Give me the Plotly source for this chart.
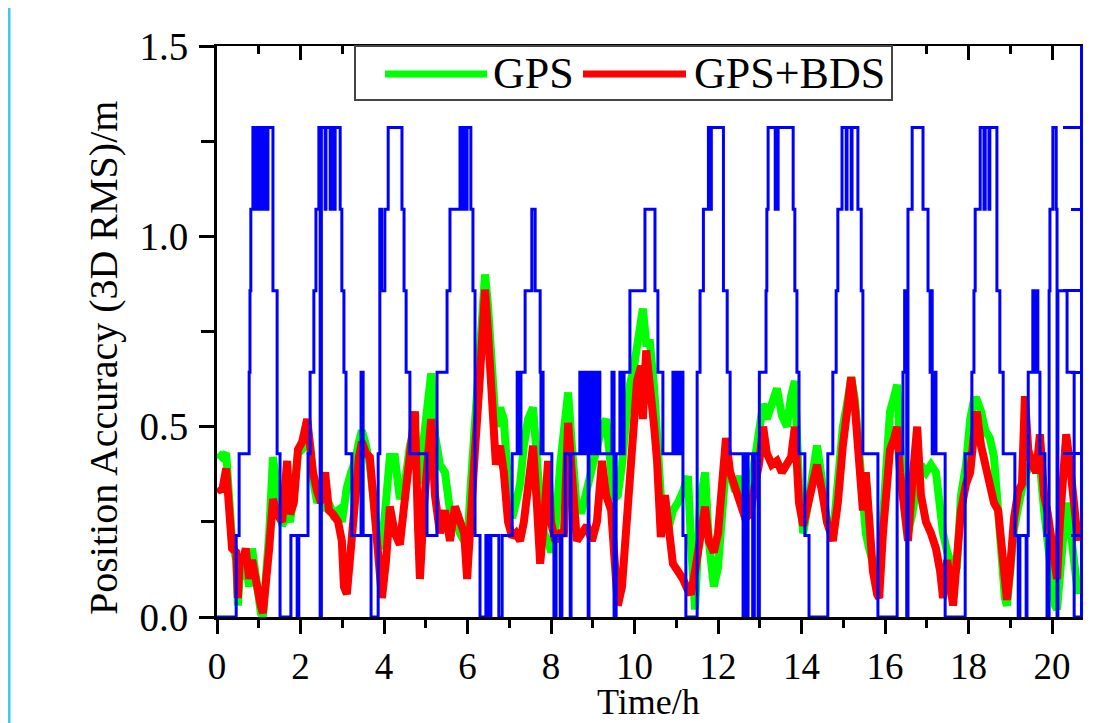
import plotly.graph_objects as go

# ---- data ----
hours = [0.02, 0.12, 0.22, 0.29, 0.36, 0.46, 0.50, 0.55, 0.62, 0.69, 0.77, 0.84, 0.91, 0.98, 1.05, 1.10, 1.17, 1.25, 1.34, 1.44,
         1.56, 1.68, 1.75, 1.84, 1.94, 2.04, 2.16, 2.23, 2.30, 2.40, 2.49, 2.59, 2.68, 2.78, 2.90, 2.99, 3.04, 3.11, 3.21, 3.31,
         3.40, 3.47, 3.57, 3.66, 3.76, 3.86, 3.95, 4.05, 4.14, 4.26, 4.38, 4.50, 4.62, 4.74, 4.81, 4.86, 4.96, 5.05, 5.13, 5.22,
         5.34, 5.46, 5.58, 5.70, 5.82, 5.92, 5.99, 6.08, 6.18, 6.28, 6.37, 6.42, 6.49, 6.59, 6.68, 6.78, 6.87, 6.97, 7.07, 7.16,
         7.26, 7.35, 7.45, 7.57, 7.66, 7.74, 7.83, 7.93, 8.00, 8.10, 8.22, 8.31, 8.41, 8.50, 8.62, 8.74, 8.86, 8.98, 9.10, 9.22,
         9.32, 9.44, 9.51, 9.60, 9.70, 9.80, 9.89, 9.99, 10.06, 10.16, 10.20, 10.28, 10.37, 10.47, 10.54, 10.63, 10.73, 10.83, 10.92, 11.04,
         11.16, 11.28, 11.35, 11.45, 11.57, 11.69, 11.78, 11.90, 12.00, 12.10, 12.19, 12.29, 12.41, 12.53, 12.65, 12.77, 12.89, 12.98, 13.08, 13.17,
         13.29, 13.41, 13.53, 13.65, 13.75, 13.84, 13.94, 14.04, 14.16, 14.28, 14.37, 14.49, 14.61, 14.75, 14.87, 14.99, 15.09, 15.19, 15.28, 15.38,
         15.47, 15.54, 15.62, 15.71, 15.81, 15.86, 15.95, 16.05, 16.12, 16.22, 16.29, 16.36, 16.46, 16.55, 16.65, 16.77, 16.86, 16.98, 17.10, 17.22,
         17.32, 17.39, 17.49, 17.56, 17.63, 17.72, 17.82, 17.94, 18.04, 18.13, 18.20, 18.30, 18.40, 18.51, 18.61, 18.71, 18.80, 18.87, 18.92, 18.99,
         19.09, 19.19, 19.28, 19.35, 19.43, 19.52, 19.62, 19.71, 19.81, 19.90, 20.00, 20.07, 20.12, 20.19, 20.26, 20.34, 20.43, 20.53, 20.62]

gps = [0.43, 0.42, 0.43, 0.30, 0.20, 0.15, 0.03, 0.12, 0.10, 0.14, 0.08, 0.18, 0.12, 0.05, 0.01, 0.00, 0.08, 0.22, 0.42, 0.33,
       0.24, 0.27, 0.25, 0.32, 0.43, 0.44, 0.48, 0.45, 0.36, 0.30, 0.32, 0.28, 0.30, 0.27, 0.28, 0.25, 0.30, 0.34, 0.38, 0.41,
       0.46, 0.49, 0.45, 0.40, 0.30, 0.20, 0.18, 0.30, 0.42, 0.42, 0.31, 0.35, 0.45, 0.50, 0.35, 0.38, 0.48, 0.60, 0.64, 0.48,
       0.40, 0.38, 0.28, 0.28, 0.22, 0.20, 0.18, 0.35, 0.50, 0.68, 0.85, 0.90, 0.82, 0.65, 0.50, 0.55, 0.52, 0.35, 0.26, 0.30,
       0.35, 0.45, 0.52, 0.55, 0.38, 0.30, 0.22, 0.20, 0.17, 0.22, 0.40, 0.52, 0.59, 0.45, 0.28, 0.28, 0.33, 0.40, 0.44, 0.50,
       0.52, 0.36, 0.31, 0.32, 0.40, 0.52, 0.61, 0.66, 0.72, 0.78, 0.81, 0.72, 0.72, 0.60, 0.48, 0.32, 0.25, 0.24, 0.28, 0.30,
       0.33, 0.37, 0.20, 0.02, 0.30, 0.38, 0.20, 0.08, 0.13, 0.28, 0.40, 0.38, 0.33, 0.37, 0.30, 0.33, 0.42, 0.48, 0.56, 0.52,
       0.57, 0.60, 0.53, 0.50, 0.58, 0.62, 0.35, 0.22, 0.30, 0.40, 0.45, 0.36, 0.25, 0.21, 0.35, 0.50, 0.56, 0.63, 0.57, 0.42,
       0.27, 0.22, 0.18, 0.14, 0.10, 0.11, 0.26, 0.46, 0.54, 0.58, 0.61, 0.45, 0.30, 0.22, 0.27, 0.36, 0.40, 0.38, 0.40, 0.38,
       0.28, 0.22, 0.17, 0.15, 0.10, 0.13, 0.32, 0.40, 0.52, 0.57, 0.57, 0.54, 0.49, 0.47, 0.42, 0.28, 0.12, 0.05, 0.03, 0.12,
       0.23, 0.29, 0.34, 0.37, 0.39, 0.41, 0.42, 0.40, 0.28, 0.18, 0.08, 0.03, 0.02, 0.12, 0.25, 0.30, 0.24, 0.15, 0.06]

gps_bds = [0.34, 0.33, 0.39, 0.26, 0.18, 0.17, 0.05, 0.16, 0.15, 0.18, 0.10, 0.15, 0.10, 0.07, 0.03, 0.01, 0.08, 0.18, 0.31, 0.27,
           0.25, 0.41, 0.27, 0.30, 0.44, 0.46, 0.52, 0.45, 0.38, 0.33, 0.30, 0.38, 0.28, 0.27, 0.25, 0.20, 0.08, 0.06, 0.20, 0.33,
           0.42, 0.46, 0.43, 0.42, 0.28, 0.12, 0.05, 0.15, 0.29, 0.22, 0.19, 0.31, 0.42, 0.54, 0.25, 0.10, 0.30, 0.45, 0.52, 0.32,
           0.22, 0.28, 0.20, 0.29, 0.25, 0.22, 0.10, 0.30, 0.44, 0.60, 0.80, 0.86, 0.75, 0.55, 0.40, 0.45, 0.38, 0.25, 0.21, 0.22,
           0.20, 0.25, 0.35, 0.45, 0.30, 0.14, 0.25, 0.41, 0.25, 0.20, 0.22, 0.22, 0.51, 0.35, 0.20, 0.22, 0.24, 0.20, 0.25, 0.41,
           0.32, 0.28, 0.15, 0.03, 0.08, 0.22, 0.40, 0.55, 0.62, 0.66, 0.52, 0.70, 0.62, 0.50, 0.41, 0.21, 0.32, 0.22, 0.14, 0.12,
           0.10, 0.07, 0.06, 0.12, 0.22, 0.29, 0.20, 0.17, 0.22, 0.35, 0.47, 0.38, 0.33, 0.30, 0.26, 0.27, 0.35, 0.40, 0.50, 0.43,
           0.40, 0.41, 0.38, 0.40, 0.42, 0.50, 0.30, 0.24, 0.30, 0.37, 0.40, 0.33, 0.25, 0.20, 0.30, 0.45, 0.55, 0.63, 0.55, 0.40,
           0.28, 0.38, 0.25, 0.12, 0.06, 0.05, 0.22, 0.40, 0.44, 0.47, 0.50, 0.38, 0.26, 0.20, 0.35, 0.50, 0.32, 0.25, 0.22, 0.18,
           0.12, 0.05, 0.15, 0.10, 0.03, 0.15, 0.28, 0.35, 0.38, 0.48, 0.54, 0.45, 0.40, 0.35, 0.30, 0.28, 0.15, 0.07, 0.045, 0.12,
           0.26, 0.33, 0.35, 0.58, 0.44, 0.40, 0.38, 0.48, 0.32, 0.27, 0.20, 0.12, 0.10, 0.25, 0.35, 0.48, 0.40, 0.30, 0.20]

# blue step series (right-axis units, change points)
step_hours = [0.00, 0.46, 0.53, 0.77, 0.79, 0.81, 0.86, 0.93, 0.98, 1.01, 1.08, 1.13, 1.15, 1.20, 1.22, 1.34, 1.44, 1.51, 1.77, 1.92,
              1.96, 2.18, 2.23, 2.32, 2.37, 2.44, 2.47, 2.50, 2.59, 2.61, 2.71, 2.73, 2.80, 2.83, 2.95, 2.99, 3.04, 3.09, 3.23, 3.45,
              3.50, 3.69, 3.86, 3.90, 3.94, 4.02, 4.10, 4.43, 4.48, 4.53, 4.62, 5.03, 5.27, 5.51, 5.58, 5.82, 5.87, 5.89, 5.96, 5.99,
              6.08, 6.13, 6.18, 6.30, 6.44, 6.51, 6.56, 6.75, 6.83, 7.07, 7.19, 7.23, 7.28, 7.38, 7.54, 7.62, 7.74, 7.76, 7.78, 7.81,
              8.02, 8.07, 8.12, 8.22, 8.26, 8.34, 8.46, 8.48, 8.69, 8.74, 8.79, 8.84, 8.89, 8.91, 8.96, 9.01, 9.05, 9.10, 9.17, 9.46,
              9.51, 9.56, 9.65, 9.70, 9.75, 9.89, 10.25, 10.49, 10.56, 10.68, 10.92, 10.96, 11.02, 11.06, 11.10, 11.16, 11.23, 11.50, 11.57, 11.65,
              11.77, 11.81, 11.84, 12.13, 12.22, 12.29, 12.60, 12.65, 12.68, 12.72, 12.83, 12.87, 12.96, 12.99, 13.15, 13.17, 13.20, 13.37, 13.44, 13.80,
              13.84, 13.89, 13.94, 14.08, 14.18, 14.63, 14.75, 14.83, 14.87, 14.97, 15.07, 15.09, 15.19, 15.21, 15.35, 15.43, 15.47, 15.83, 16.29, 16.43,
              16.47, 16.52, 16.55, 16.65, 16.91, 17.03, 17.08, 17.10, 17.13, 17.17, 17.22, 17.44, 17.92, 18.08, 18.13, 18.16, 18.28, 18.37, 18.40, 18.49,
              18.51, 18.68, 18.75, 18.83, 19.11, 19.19, 19.23, 19.38, 19.40, 19.43, 19.54, 19.57, 19.62, 19.66, 19.71, 19.83, 19.88, 19.93, 19.95, 20.02,
              20.10, 20.12, 20.14, 20.36, 20.53, 20.67]
step_levels = [0, 1, 2, 3, 4, 5, 6, 5, 6, 5, 6, 5, 6, 5, 6, 4, 2, 0, 1, 0,
               1, 2, 3, 4, 5, 6, 0, 6, 5, 6, 5, 6, 5, 6, 5, 4, 3, 2, 1, 3,
               1, 0, 2, 5, 4, 5, 6, 5, 4, 3, 2, 1, 3, 4, 5, 6, 5, 6, 5, 6,
               5, 4, 1, 0, 1, 0, 1, 0, 1, 2, 3, 2, 3, 4, 5, 4, 3, 2, 3, 2,
               1, 0, 1, 0, 1, 2, 0, 2, 3, 2, 3, 2, 0, 3, 2, 3, 2, 3, 2, 3,
               0, 2, 3, 2, 3, 4, 5, 4, 3, 2, 3, 2, 3, 2, 3, 1, 0, 3, 4, 5,
               6, 5, 6, 4, 3, 2, 0, 2, 0, 2, 0, 2, 0, 3, 4, 5, 6, 5, 6, 5,
               4, 3, 2, 1, 0, 2, 3, 4, 5, 6, 5, 6, 5, 6, 5, 4, 2, 0, 2, 3,
               4, 0, 5, 6, 5, 4, 3, 4, 2, 3, 2, 0, 2, 3, 4, 5, 6, 5, 6, 5,
               6, 4, 3, 2, 1, 0, 1, 0, 1, 3, 4, 3, 4, 3, 2, 1, 0, 4, 5, 6,
               5, 0, 4, 3, 0, 0]

legend_names = ["GPS", "GPS+BDS"]
x_title = "Time/h"
y_title = "Position Accuracy (3D RMS)/m"
x_range = [0, 20.67]
y_range = [0, 1.5]
y2_range = [0, 7]

FONT = "Times New Roman, Liberation Serif, Times, serif"
BLUE, GREEN, RED = "#0000FF", "#00FF00", "#FF0000"

fig = go.Figure()
fig.add_trace(go.Scatter(x=step_hours, y=step_levels, yaxis="y2", mode="lines",
                         line=dict(color=BLUE, width=3, shape="hv"), showlegend=False, hoverinfo="skip"))
fig.add_trace(go.Scatter(x=hours, y=gps, mode="lines", name=legend_names[0],
                         line=dict(color=GREEN, width=8), showlegend=False))
fig.add_trace(go.Scatter(x=hours, y=gps_bds, mode="lines", name=legend_names[1],
                         line=dict(color=RED, width=8), showlegend=False))
# carrier for the top axis
fig.add_trace(go.Scatter(x=[None], y=[None], xaxis="x2", mode="lines", showlegend=False, hoverinfo="skip"))

# the page body adds an 8 px offset; the figure is sized so the plot box lands where the original's is
fig.update_layout(
    width=1085, height=715,
    margin=dict(l=209, r=13, t=38, b=106, autoexpand=False),
    paper_bgcolor="white", plot_bgcolor="white",
    font=dict(family=FONT, color="black", size=38),
    xaxis=dict(range=x_range, dtick=2, tick0=0, ticks="outside", ticklen=14, tickwidth=3,
               tickcolor="black", showline=True, linecolor="black", linewidth=3,
               showgrid=False, zeroline=False, tickfont=dict(size=37), automargin=False,
               ticklabelstandoff=1,
               minor=dict(dtick=1, ticks="outside", ticklen=8, tickwidth=3, tickcolor="black")),
    xaxis2=dict(range=x_range, overlaying="x", side="top", anchor="y", dtick=2, tick0=0,
                ticks="inside", ticklen=14, tickwidth=3, tickcolor="black", automargin=False,
                showline=True, linecolor="black", linewidth=2, showgrid=False, zeroline=False,
                showticklabels=False,
                minor=dict(dtick=1, ticks="inside", ticklen=8, tickwidth=3, tickcolor="black")),
    yaxis=dict(range=y_range, dtick=0.5, tick0=0, tickformat=".1f", ticks="outside", ticklen=15,
               tickwidth=3, tickcolor="black", showline=True, linecolor="black", linewidth=3,
               showgrid=False, zeroline=False, tickfont=dict(size=39), automargin=False,
               ticklabelstandoff=3,
               minor=dict(dtick=0.25, ticks="outside", ticklen=13, tickwidth=3, tickcolor="black")),
    yaxis2=dict(range=y2_range, overlaying="y", side="right", anchor="x", dtick=2, tick0=0,
                ticks="inside", ticklen=17, tickwidth=3, tickcolor=BLUE, automargin=False,
                showline=True, linecolor=BLUE, linewidth=3, showgrid=False, zeroline=False,
                showticklabels=False,
                minor=dict(dtick=1, ticks="inside", ticklen=9, tickwidth=3, tickcolor=BLUE)),
)

# positions given in page pixels of the original, converted to paper fractions
W, H = 863.0, 571.0
def px(x):
    return (x - 217) / W
def py(y):
    return (617 - y) / H

# axis titles
fig.add_annotation(xref="paper", yref="paper", x=px(104), y=py(358), xanchor="center", yanchor="middle",
                   text=y_title, textangle=-90, showarrow=False, font=dict(size=40, family=FONT, color="black"))
fig.add_annotation(xref="paper", yref="paper", x=px(648), y=py(702), xanchor="center", yanchor="middle",
                   text=x_title, showarrow=False, font=dict(size=36, family=FONT, color="black"))

# hand-drawn legend box (matches the long line samples of the original)
fig.add_shape(type="rect", xref="paper", yref="paper", x0=px(355), x1=px(892), y0=py(100), y1=py(46),
              line=dict(color="#444444", width=2), fillcolor="white", layer="above")
fig.add_shape(type="line", xref="paper", yref="paper", x0=px(385), x1=px(487), y0=py(74), y1=py(74),
              line=dict(color=GREEN, width=7), layer="above")
fig.add_shape(type="line", xref="paper", yref="paper", x0=px(583), x1=px(686), y0=py(74), y1=py(74),
              line=dict(color=RED, width=7), layer="above")
fig.add_annotation(xref="paper", yref="paper", x=px(491), y=py(74), xanchor="left", yanchor="middle",
                   text=legend_names[0], showarrow=False, font=dict(size=44, family=FONT, color="black"))
fig.add_annotation(xref="paper", yref="paper", x=px(692), y=py(74), xanchor="left", yanchor="middle",
                   text=legend_names[1], showarrow=False, font=dict(size=44, family=FONT, color="black"))

# cyan page edge at the left
fig.add_shape(type="rect", xref="paper", yref="paper", x0=px(8), x1=px(10.5), y0=py(723), y1=py(8),
              line=dict(width=0), fillcolor="#3CC8F0", layer="above")

fig.write_html("out.html")
